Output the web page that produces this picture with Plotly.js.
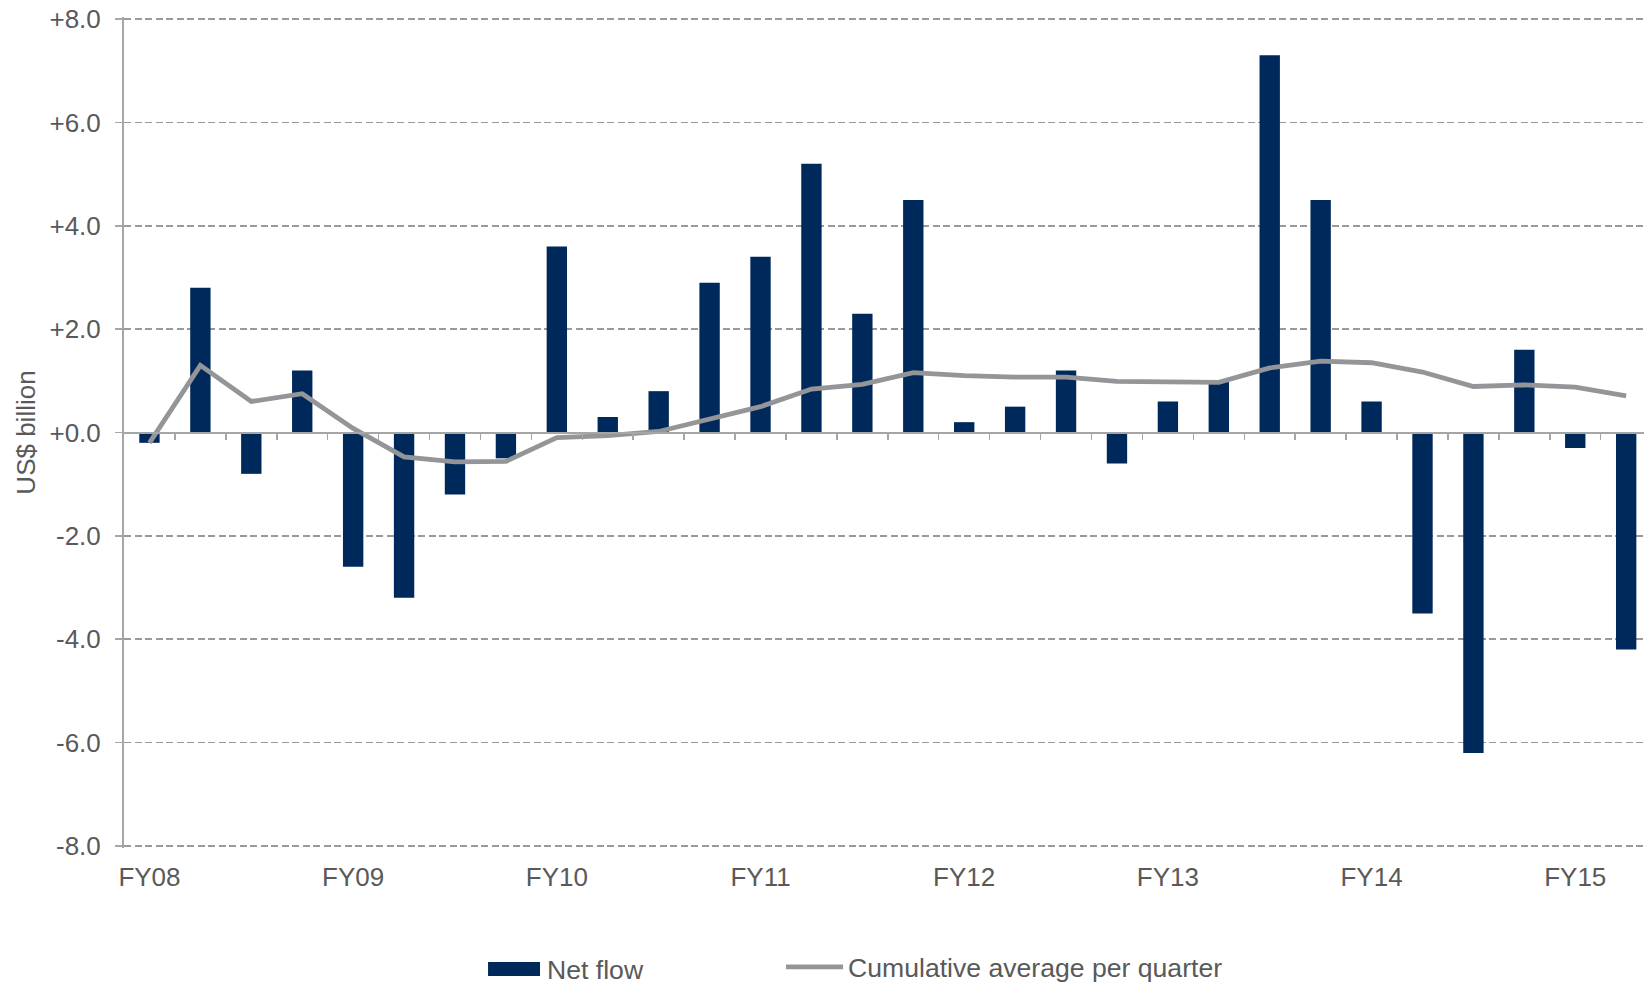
<!DOCTYPE html>
<html>
<head>
<meta charset="utf-8">
<script src="https://cdn.plot.ly/plotly-3.0.1.min.js"></script>
<style>
  html, body { margin: 0; padding: 0; overflow: hidden; background: #fff; }
  #chart { width: 1644px; height: 987px; }
</style>
</head>
<body>
<div id="chart"></div>
<script>
// Quarters, FY08 first quarter through FY15 second quarter
const quarters = [
  "FY08 Q1","FY08 Q2","FY08 Q3","FY08 Q4",
  "FY09 Q1","FY09 Q2","FY09 Q3","FY09 Q4",
  "FY10 Q1","FY10 Q2","FY10 Q3","FY10 Q4",
  "FY11 Q1","FY11 Q2","FY11 Q3","FY11 Q4",
  "FY12 Q1","FY12 Q2","FY12 Q3","FY12 Q4",
  "FY13 Q1","FY13 Q2","FY13 Q3","FY13 Q4",
  "FY14 Q1","FY14 Q2","FY14 Q3","FY14 Q4",
  "FY15 Q1","FY15 Q2"
];
// Net flow per quarter (US$ billion)
const netFlow = [
  -0.2, 2.8, -0.8, 1.2,
  -2.6, -3.2, -1.2, -0.5,
  3.6, 0.3, 0.8, 2.9,
  3.4, 5.2, 2.3, 4.5,
  0.2, 0.5, 1.2, -0.6,
  0.6, 1.0, 7.3, 4.5,
  0.6, -3.5, -6.2, 1.6,
  -0.3, -4.2
];
// Cumulative average per quarter (US$ billion)
const cumAvg = [
  -0.2, 1.3, 0.6, 0.75,
  0.08, -0.47, -0.57, -0.56,
  -0.1, -0.06, 0.02, 0.26,
  0.5, 0.84, 0.93, 1.16,
  1.1, 1.07, 1.07, 0.99,
  0.97, 0.97, 1.25, 1.38,
  1.35, 1.17, 0.89, 0.92,
  0.88, 0.71
];
// Axis tick labels
const xTickText = ["FY08","FY09","FY10","FY11","FY12","FY13","FY14","FY15"];
const yTickVals = [-8, -6, -4, -2, 0, 2, 4, 6, 8];
const yTickText = ["-8.0","-6.0","-4.0","-2.0","+0.0","+2.0","+4.0","+6.0","+8.0"];

const idx = quarters.map((_, i) => i);
const xTickVals = xTickText.map((_, i) => i * 4);
const boundaryVals = quarters.map((_, i) => i + 0.5);

const textColor = "#595959";
const axisColor = "#a6a6a6";
const barColor = "#00295b";
const xRange = [-0.5, 29.35];

const traces = [
  {
    type: "bar",
    name: "Net flow",
    x: idx,
    y: netFlow,
    hovertext: quarters,
    textposition: "none",
    hovertemplate: "%{hovertext}: %{y:.1f}<extra></extra>",
    width: 0.4,
    marker: { color: barColor, line: { width: 0 } },
    legend: "legend"
  },
  {
    type: "scatter",
    mode: "lines",
    name: "Cumulative average per quarter",
    x: idx,
    y: cumAvg,
    xaxis: "x2",
    yaxis: "y",
    hovertext: quarters,
    hovertemplate: "%{hovertext}: %{y:.2f}<extra></extra>",
    line: { color: "#939598", width: 4.8 },
    legend: "legend2"
  }
];

const legendFont = { family: "Liberation Sans, Arial, sans-serif", size: 26.6, color: textColor };

const layout = {
  width: 1644,
  height: 987,
  paper_bgcolor: "#fff",
  plot_bgcolor: "#fff",
  margin: { l: 124, r: 0, t: 17, b: 139 },
  font: { family: "Liberation Sans, Arial, sans-serif", color: textColor, size: 26 },
  showlegend: true,
  legend: {
    orientation: "h",
    xref: "container",
    yref: "container",
    x: 0.292,
    xanchor: "left",
    y: 0.0182,
    yanchor: "middle",
    itemwidth: 57,
    bgcolor: "rgba(0,0,0,0)",
    font: legendFont
  },
  legend2: {
    orientation: "h",
    xref: "container",
    yref: "container",
    x: 0.4751,
    xanchor: "left",
    y: 0.0202,
    yanchor: "middle",
    itemwidth: 57,
    bgcolor: "rgba(0,0,0,0)",
    font: legendFont
  },
  // wide swatch behind the "Net flow" legend entry, as in the original legend
  shapes: [
    {
      type: "rect",
      xref: "paper",
      yref: "paper",
      x0: 0.2395,
      x1: 0.2737,
      y0: -0.1540,
      y1: -0.1372,
      fillcolor: barColor,
      line: { width: 0 },
      layer: "above"
    }
  ],
  xaxis: {
    type: "linear",
    range: xRange,
    tickmode: "array",
    tickvals: xTickVals,
    ticktext: xTickText,
    showgrid: false,
    zeroline: false,
    showline: false,
    ticks: "",
    ticklabelstandoff: 11,
    tickfont: { size: 26, color: textColor },
    automargin: false,
    fixedrange: true
  },
  xaxis2: {
    type: "linear",
    overlaying: "x",
    anchor: "free",
    position: 0.5,
    range: xRange,
    tickmode: "array",
    tickvals: boundaryVals,
    showticklabels: false,
    ticks: "outside",
    ticklen: 6,
    tickwidth: 1.5,
    tickcolor: axisColor,
    showline: true,
    linecolor: axisColor,
    linewidth: 2,
    showgrid: false,
    zeroline: false,
    fixedrange: true
  },
  yaxis: {
    range: [-8.04, 8.04],
    tickmode: "array",
    tickvals: yTickVals,
    ticktext: yTickText,
    showline: true,
    linecolor: axisColor,
    linewidth: 2,
    ticks: "outside",
    ticklen: 7,
    tickwidth: 1.5,
    tickcolor: axisColor,
    showgrid: true,
    gridcolor: "#9a9a9a",
    gridwidth: 1.5,
    griddash: "7px,3.5px",
    zeroline: false,
    ticklabelstandoff: 9,
    tickfont: { size: 26, color: textColor },
    title: { text: "US$ billion", font: { size: 26, color: textColor }, standoff: 6 },
    automargin: false,
    fixedrange: true
  },
  bargap: 0.6
};

Plotly.newPlot("chart", traces, layout, { displayModeBar: false, staticPlot: true });
</script>
</body>
</html>
